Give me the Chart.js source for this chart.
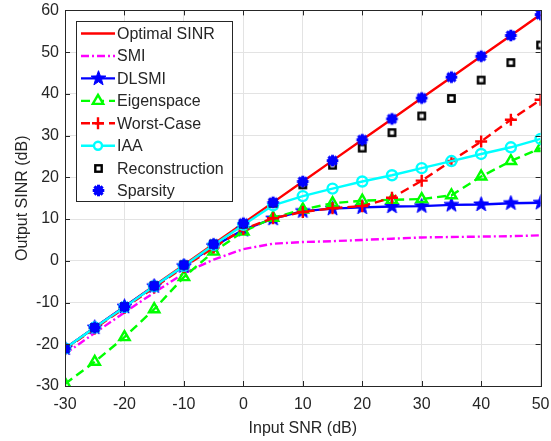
<!DOCTYPE html>
<html>
<head>
<meta charset="utf-8">
<script src="https://cdn.jsdelivr.net/npm/chart.js@4.4.1/dist/chart.umd.min.js"></script>
<style>
  html, body { margin: 0; padding: 0; background: #fff; }
  #wrap { width: 551px; height: 441px; }
</style>
</head>
<body>
<div id="wrap"><canvas id="sinrChart" width="551" height="441"></canvas></div>
<script>
// input SNR grid (dB)
const snr = [-30, -25, -20, -15, -10, -5, 0, 5, 10, 15, 20, 25, 30, 35, 40, 45, 50];
const xTicks = [-30, -20, -10, 0, 10, 20, 30, 40, 50];
const yTicks = [-30, -20, -10, 0, 10, 20, 30, 40, 50, 60];

// output SINR per beamformer (dB)
const optimal = [-21, -16, -11, -6, -1, 4, 9, 14, 19, 24, 29, 34, 39, 44, 49, 54, 59];
const smi = [-22.3, -17.3, -12.4, -7.6, -3.0, 0.3, 2.8, 4.1, 4.5, 4.7, 5.0, 5.3, 5.6, 5.7, 5.8, 5.9, 6.1];
const dlsmi = [-21, -16, -11, -6.1, -1.3, 3.5, 7.4, 10.1, 11.9, 12.5, 12.8, 13.0, 13.1, 13.4, 13.5, 13.8, 13.9];
const eigenspace = [-29.5, -24.2, -18.3, -11.6, -3.9, 2.2, 7.0, 10.3, 12.3, 13.8, 14.4, 14.6, 14.8, 15.7, 20.2, 23.9, 27.0];
const worstCase = [-21.2, -16.2, -11.3, -6.4, -1.5, 3.2, 7.6, 10.2, 11.7, 12.6, 13.1, 15.1, 19.2, 23.9, 28.6, 33.8, 38.6];
const iaa = [-21, -16, -11.1, -6.1, -1.2, 3.8, 8.6, 13.3, 15.5, 17.3, 19.0, 20.5, 22.2, 23.9, 25.6, 27.2, 29.2];
const reconstruction = [-21, -16, -11, -6, -1, 4, 8.8, 13.8, 18.2, 22.9, 27.0, 30.7, 34.7, 38.9, 43.3, 47.5, 51.7];
const sparsity = [-21, -16, -11, -6, -1, 4, 9, 14, 19, 24, 29, 34, 39, 44, 49, 54, 59];

const FONT = '"Liberation Sans", Arial, sans-serif';
const INK = '#262626';
const LW = 2.4;

function pts(ys) { return snr.map((x, i) => ({ x, y: ys[i] })); }

// small canvases used as point markers
function markerCanvas(size, draw) {
  const c = document.createElement('canvas');
  c.width = size; c.height = size;
  const g = c.getContext('2d');
  draw(g, size / 2);
  return c;
}

const pentagram = markerCanvas(17, (g, m) => {
  const ro = 7.8, ri = 3.2;
  g.beginPath();
  for (let k = 0; k < 10; k++) {
    const r = k % 2 ? ri : ro;
    const a = -Math.PI / 2 + k * Math.PI / 5;
    g.lineTo(m + r * Math.cos(a), m + r * Math.sin(a));
  }
  g.closePath();
  g.fillStyle = '#0000ff';
  g.fill();
  g.strokeStyle = '#0000ff';
  g.lineWidth = 1;
  g.stroke();
});

// thick '*' marker, reads as a solid blob
const asterisk = markerCanvas(15, (g, m) => {
  g.strokeStyle = '#0000ff';
  g.lineWidth = 3;
  g.lineCap = 'butt';
  const r = 5.8;
  for (let k = 0; k < 4; k++) {
    const a = k * Math.PI / 4;
    g.beginPath();
    g.moveTo(m - r * Math.cos(a), m - r * Math.sin(a));
    g.lineTo(m + r * Math.cos(a), m + r * Math.sin(a));
    g.stroke();
  }
  g.fillStyle = '#0000ff';
  g.beginPath();
  g.arc(m, m, 4.6, 0, Math.PI * 2);
  g.fill();
});

const hollowSquare = markerCanvas(11, (g, m) => {
  g.strokeStyle = '#000';
  g.lineWidth = 2.4;
  g.strokeRect(m - 3.2, m - 3.2, 6.4, 6.4);
});

const series = [
  { label: 'Optimal SINR', data: optimal, color: '#ff0000', dash: [], style: false },
  { label: 'SMI', data: smi, color: '#ff00ff', dash: [8, 3, 2, 3], style: false },
  { label: 'DLSMI', data: dlsmi, color: '#0000ff', dash: [], style: pentagram, radius: 8 },
  { label: 'Eigenspace', data: eigenspace, color: '#00ff00', dash: [9, 5], style: 'triangle', radius: 6 },
  { label: 'Worst-Case', data: worstCase, color: '#ff0000', dash: [9, 5], style: 'cross', radius: 6 },
  { label: 'IAA', data: iaa, color: '#00ffff', dash: [], style: 'circle', radius: 5 },
  { label: 'Reconstruction', data: reconstruction, color: '#000000', dash: [], style: hollowSquare, radius: 5, noLine: true },
  { label: 'Sparsity', data: sparsity, color: '#0000ff', dash: [], style: asterisk, radius: 7, noLine: true }
];

const datasets = series.map((s, i) => ({
  label: s.label,
  data: pts(s.data),
  borderColor: s.color,
  backgroundColor: 'rgba(0,0,0,0)',
  borderWidth: LW,
  borderDash: s.dash,
  showLine: !s.noLine,
  tension: 0,
  pointStyle: s.style,
  pointRadius: s.style ? s.radius : 0,
  pointBorderWidth: 2.4,
  pointBorderColor: s.color,
  pointBackgroundColor: 'rgba(0,0,0,0)',
  order: series.length - i
}));

// MATLAB-style box with inward ticks on all four sides
const axesBox = {
  id: 'axesBox',
  afterDatasetsDraw(chart) {
    const { ctx, chartArea: a, scales } = chart;
    ctx.save();
    ctx.strokeStyle = INK;
    ctx.lineWidth = 1;
    ctx.beginPath();
    const tl = 5;
    xTicks.forEach(v => {
      const px = Math.round(scales.x.getPixelForValue(v)) + 0.5;
      ctx.moveTo(px, a.bottom); ctx.lineTo(px, a.bottom - tl);
      ctx.moveTo(px, a.top); ctx.lineTo(px, a.top + tl);
    });
    yTicks.forEach(v => {
      const py = Math.round(scales.y.getPixelForValue(v)) + 0.5;
      ctx.moveTo(a.left, py); ctx.lineTo(a.left + tl, py);
      ctx.moveTo(a.right, py); ctx.lineTo(a.right - tl, py);
    });
    ctx.stroke();
    ctx.strokeRect(Math.round(a.left) + 0.5, Math.round(a.top) + 0.5,
      Math.round(a.right - a.left), Math.round(a.bottom - a.top));
    ctx.restore();
  }
};

function legendMarker(ctx, s, x, y) {
  const st = s.style;
  if (!st) return;
  ctx.save();
  ctx.setLineDash([]);
  ctx.strokeStyle = s.color;
  ctx.lineWidth = 2.4;
  if (st instanceof HTMLCanvasElement) {
    ctx.drawImage(st, Math.round(x - st.width / 2), Math.round(y - st.height / 2));
  } else if (st === 'triangle') {
    const r = s.radius;
    ctx.beginPath();
    ctx.moveTo(x, y - r);
    ctx.lineTo(x + r * 0.866, y + r * 0.5);
    ctx.lineTo(x - r * 0.866, y + r * 0.5);
    ctx.closePath();
    ctx.fillStyle = '#fff';
    ctx.fill();
    ctx.stroke();
  } else if (st === 'cross') {
    const r = s.radius;
    ctx.beginPath();
    ctx.moveTo(x - r, y); ctx.lineTo(x + r, y);
    ctx.moveTo(x, y - r); ctx.lineTo(x, y + r);
    ctx.stroke();
  } else if (st === 'circle') {
    ctx.beginPath();
    ctx.arc(x, y, s.radius - 1, 0, Math.PI * 2);
    ctx.fillStyle = '#fff';
    ctx.fill();
    ctx.stroke();
  }
  ctx.restore();
}

const boxLegend = {
  id: 'boxLegend',
  afterDraw(chart) {
    const ctx = chart.ctx;
    const bx = 76, by = 21, bw = 156, bh = 180;
    ctx.save();
    ctx.fillStyle = '#fff';
    ctx.fillRect(bx, by, bw, bh);
    ctx.strokeStyle = INK;
    ctx.lineWidth = 1;
    ctx.strokeRect(bx + 0.5, by + 0.5, bw, bh);
    ctx.font = '16px ' + FONT;
    ctx.textBaseline = 'middle';
    ctx.fillStyle = INK;
    series.forEach((s, i) => {
      const y = 33.5 + i * 22.45;
      const x0 = 81, x1 = 115, xm = 98;
      if (!s.noLine) {
        ctx.save();
        ctx.strokeStyle = s.color;
        ctx.lineWidth = LW;
        ctx.setLineDash(s.dash);
        ctx.beginPath();
        ctx.moveTo(x0, y); ctx.lineTo(x1, y);
        ctx.stroke();
        ctx.restore();
      }
      legendMarker(ctx, s, xm, y);
      ctx.fillText(s.label, 117, y + 1);
    });
    ctx.restore();
  }
};

new Chart(document.getElementById('sinrChart'), {
  type: 'line',
  data: { datasets },
  plugins: [axesBox, boxLegend],
  options: {
    responsive: false,
    animation: false,
    devicePixelRatio: 1,
    layout: { padding: { top: 10, right: 10, bottom: 0, left: 0 } },
    plugins: { legend: { display: false }, tooltip: { enabled: false } },
    scales: {
      x: {
        type: 'linear',
        min: -30, max: 50,
        afterBuildTicks: s => { s.ticks = xTicks.map(v => ({ value: v })); },
        afterFit: s => { s.height = 55; s.paddingLeft = 0; s.paddingRight = 0; },
        grid: { color: '#e3e3e3', drawTicks: false },
        border: { display: false },
        ticks: { color: INK, padding: 9, font: { family: FONT, size: 16 } },
        title: { display: true, text: 'Input SNR (dB)', color: INK, font: { family: FONT, size: 16 }, padding: { top: 0, bottom: 3 } }
      },
      y: {
        type: 'linear',
        min: -30, max: 60,
        afterBuildTicks: s => { s.ticks = yTicks.map(v => ({ value: v })); },
        afterFit: s => { s.width = 65; s.paddingTop = 0; s.paddingBottom = 0; },
        grid: { color: '#e3e3e3', drawTicks: false },
        border: { display: false },
        ticks: { color: INK, padding: 6, font: { family: FONT, size: 16 } },
        title: { display: true, text: 'Output SINR (dB)', color: INK, font: { family: FONT, size: 16 }, padding: { top: 13, bottom: 0 } }
      }
    }
  }
});
</script>
</body>
</html>
